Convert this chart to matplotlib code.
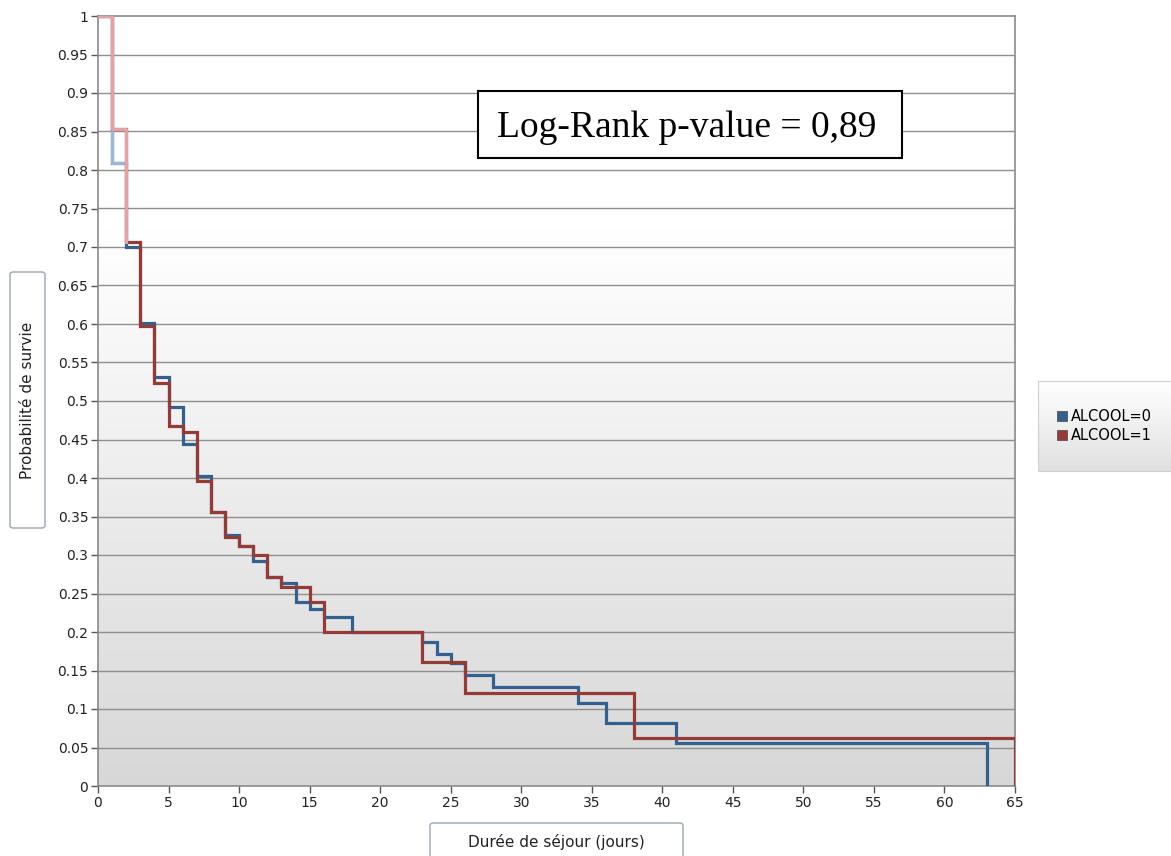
import numpy as np
import matplotlib
matplotlib.use("Agg")
import matplotlib.pyplot as plt
from matplotlib.patches import FancyBboxPatch, Rectangle
from matplotlib.lines import Line2D
from matplotlib.ticker import FuncFormatter, MultipleLocator

# Kaplan-Meier estimates by group (event times in days, survival after each time)
t_alc0 = [0, 1, 2, 3, 4, 5, 6, 7, 8, 9, 10, 11, 12, 13, 14, 15, 16, 18,
          23, 24, 25, 26, 28, 34, 36, 41, 63]
s_alc0 = [1.0, 0.809, 0.700, 0.601, 0.531, 0.492, 0.444, 0.403, 0.356, 0.326,
          0.312, 0.292, 0.272, 0.263, 0.239, 0.230, 0.219, 0.200,
          0.187, 0.172, 0.160, 0.144, 0.129, 0.108, 0.082, 0.056, 0.0]

t_alc1 = [0, 1, 2, 3, 4, 5, 6, 7, 8, 9, 10, 11, 12, 13, 15, 16, 23, 26, 38, 65]
s_alc1 = [1.0, 0.853, 0.706, 0.597, 0.523, 0.468, 0.460, 0.396, 0.356, 0.323,
          0.312, 0.300, 0.272, 0.258, 0.239, 0.200, 0.161, 0.121, 0.062, 0.0]

groups = ["ALCOOL=0", "ALCOOL=1"]
p_value = "0,89"

blue, red = "#33618f", "#963a38"
blue_light, red_light = "#9bb6d6", "#e6a2a2"


def staircase(t, s):
    xs = np.repeat(np.asarray(t, float), 2)[1:]
    ys = np.repeat(np.asarray(s, float), 2)[:-1]
    return xs, ys


W, H = 1171, 856
fig = plt.figure(figsize=(W / 100, H / 100), dpi=100)
fig.patch.set_facecolor("white")

# plot area in pixel terms
left, right, top, bottom = 98, 1015, 16, 786
ax = fig.add_axes([left / W, 1 - bottom / H, (right - left) / W, (bottom - top) / H])
ax.set_xlim(0, 65)
ax.set_ylim(0, 1)

# background: white in the upper part, fading to light grey at the bottom
yy = np.linspace(1.0, 0.0, 256).reshape(-1, 1)
shade = np.minimum(1.0, 0.845 + 0.155 * yy / 0.72)
ax.imshow(np.dstack([shade, shade, shade]), extent=[0, 65, 0, 1], aspect="auto",
          zorder=0, interpolation="bicubic")

for y in np.arange(0.05, 1.0, 0.05):
    ax.axhline(y, color="#8f8f8f", lw=1.0, zorder=1)

x0, y0 = staircase(t_alc0, s_alc0)
x1, y1 = staircase(t_alc1, s_alc1)
ax.plot(x0, y0, color=blue, lw=2.3, zorder=3, solid_joinstyle="miter")
ax.plot(x0[1:4], y0[1:4], color=blue_light, lw=2.3, zorder=3.5)
ax.plot(x1, y1, color=red, lw=2.3, zorder=4, solid_joinstyle="miter")
ax.plot(x1[:5], y1[:5], color=red_light, lw=2.3, zorder=4.5)

for sp in ax.spines.values():
    sp.set_color("#8a8a8a")
    sp.set_linewidth(1.2)

ax.xaxis.set_major_locator(MultipleLocator(5))
ax.yaxis.set_major_locator(MultipleLocator(0.05))
ax.yaxis.set_major_formatter(FuncFormatter(lambda v, p: f"{round(v, 2):g}"))
ax.tick_params(axis="both", direction="out", length=5, width=1, color="#555555",
               labelsize=10, labelcolor="#222222", pad=2)

# p-value annotation box
fig.patches.append(Rectangle((478 / W, 1 - 158 / H), 424 / W, 67 / H,
                             transform=fig.transFigure, facecolor="white",
                             edgecolor="black", linewidth=1.5, zorder=6))
fig.text(687 / W, 1 - 128 / H, f"Log-Rank p-value = {p_value}",
         ha="center", va="center", fontsize=27, family="Liberation Serif",
         color="black", zorder=7)


# axis title boxes
def label_box(x, y, w, h):
    box = FancyBboxPatch((x / W, 1 - (y + h) / H), w / W, h / H,
                         boxstyle="round,pad=0,rounding_size=0.003",
                         transform=fig.transFigure, facecolor="white",
                         edgecolor="#a9b3bd", linewidth=1.2)
    fig.patches.append(box)


label_box(10, 272, 35, 256)
fig.text(27.5 / W, 1 - 400 / H, "Probabilité de survie", ha="center",
         va="center", rotation=90, fontsize=11, color="#222222")
label_box(430, 823, 253, 50)
fig.text(556.5 / W, 1 - 842 / H, "Durée de séjour (jours)", ha="center",
         va="center", fontsize=11, color="#222222")

# legend panel with its own gradient
lax = fig.add_axes([1038 / W, 1 - 471 / H, 140 / W, 90 / H])
lgrad = np.linspace(1.0, 0.0, 64).reshape(-1, 1)
lshade = 0.88 + 0.12 * lgrad
lax.imshow(np.dstack([lshade, lshade, lshade]), extent=[0, 1, 0, 1],
           aspect="auto", interpolation="bicubic")
lax.set_xticks([])
lax.set_yticks([])
for sp in lax.spines.values():
    sp.set_color("#d0d0d0")
handles = [Line2D([], [], marker="s", linestyle="none", markersize=6.5,
                  markerfacecolor=c, markeredgecolor="#555555",
                  markeredgewidth=0.6) for c in (blue, red)]
lax.legend(handles, groups, loc="center left", bbox_to_anchor=(0.06, 0.5),
           frameon=False, fontsize=10.5, handletextpad=0.0, labelspacing=0.25,
           handlelength=1.2, borderpad=0)

fig.savefig("out.png", dpi=100)
